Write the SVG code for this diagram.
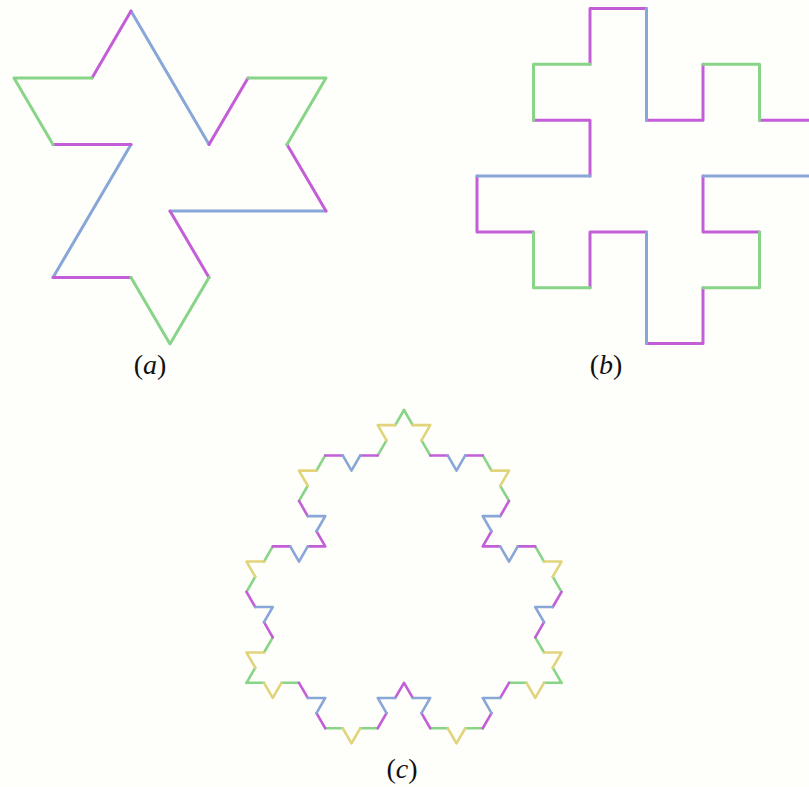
<svg xmlns="http://www.w3.org/2000/svg" xmlns:xlink="http://www.w3.org/1999/xlink" width="809" height="787" viewBox="0 0 809 787">
  <style>
    .ln { fill: none; stroke-width: 3; stroke-linecap: round; stroke-linejoin: round; }
    .lc { fill: none; stroke-width: 2.6; stroke-linecap: round; stroke-linejoin: round; }
    .m { stroke: #c45ed8; }
    .b { stroke: #88a6d8; }
    .g { stroke: #88d488; }
    .y { stroke: #e2d47c; }
    .lbl { font-family: "Liberation Serif", "Times New Roman", serif; font-size: 28px; fill: #111; text-anchor: middle; }
    .it { font-style: italic; }
  </style>
  <defs>
    <g id="c-third">
      <path class="lc g" d="M404,410 L412.75,425.16 M421.5,440.31 L430.25,455.47 M482.75,455.47 L491.5,470.62 M500.25,485.78 L509,500.93 M535.25,546.4 L544,561.55 M552.75,576.71 L561.5,591.86 M535.25,637.33 L544,652.49 M552.75,667.64 L561.5,682.8"/>
      <path class="lc y" d="M412.75,425.16 L430.25,425.16 L421.5,440.31 M491.5,470.62 L509,470.62 L500.25,485.78 M544,561.55 L561.5,561.55 L552.75,576.71 M544,652.49 L561.5,652.49 L552.75,667.64"/>
      <path class="lc m" d="M430.25,455.47 L447.75,455.47 M465.25,455.47 L482.75,455.47 M509,500.93 L500.25,516.09 M491.5,531.24 L482.75,546.4 L500.25,546.4 M517.75,546.4 L535.25,546.4 M561.5,591.86 L552.75,607.02 M544,622.18 L535.25,637.33"/>
      <path class="lc b" d="M447.75,455.47 L456.5,470.62 L465.25,455.47 M500.25,516.09 L482.75,516.09 L491.5,531.24 M500.25,546.4 L509,561.55 L517.75,546.4 M552.75,607.02 L535.25,607.02 L544,622.18"/>
    </g>
  </defs>
  <rect width="809" height="787" fill="#fefefa"/>

  <g id="fig-a">
    <path class="ln b" d="M131,11 L209,144.5 M326,211 L170,211 M53,277.5 L131,144.5"/>
    <path class="ln m" d="M209,144.5 L248,78 M287,144.5 L326,211 M170,211 L209,277.5 M131,277.5 L53,277.5 M131,144.5 L53,144.5 M92,78 L131,11"/>
    <path class="ln g" d="M248,78 L326,78 L287,144.5 M209,277.5 L170,344 L131,277.5 M53,144.5 L14,78 L92,78"/>
  </g>

  <g id="fig-b">
    <path class="ln m" d="M590,8.5 L646.5,8.5 M646.5,120.2 L703,120.2 L703,64.35 M759.5,120.2 L816,120.2 L816,176.05 M703,176.05 L703,231.9 L759.5,231.9 M703,287.75 L703,343.6 L646.5,343.6 M646.5,231.9 L590,231.9 L590,287.75 M533.5,231.9 L477,231.9 L477,176.05 M590,176.05 L590,120.2 L533.5,120.2 M590,64.35 L590,8.5"/>
    <path class="ln b" d="M646.5,8.5 L646.5,120.2 M816,176.05 L703,176.05 M646.5,343.6 L646.5,231.9 M477,176.05 L590,176.05"/>
    <path class="ln g" d="M703,64.35 L759.5,64.35 L759.5,120.2 M759.5,231.9 L759.5,287.75 L703,287.75 M590,287.75 L533.5,287.75 L533.5,231.9 M533.5,120.2 L533.5,64.35 L590,64.35"/>
  </g>

  <g id="fig-c">
    <use xlink:href="#c-third" href="#c-third"/>
    <use xlink:href="#c-third" href="#c-third" transform="rotate(120 404 591.86)"/>
    <use xlink:href="#c-third" href="#c-third" transform="rotate(240 404 591.86)"/>
  </g>

  <g id="labels">
    <text class="lbl" x="150" y="374">(<tspan class="it">a</tspan>)</text>
    <text class="lbl" x="606" y="374">(<tspan class="it">b</tspan>)</text>
    <text class="lbl" x="402" y="778">(<tspan class="it">c</tspan>)</text>
  </g>
</svg>
